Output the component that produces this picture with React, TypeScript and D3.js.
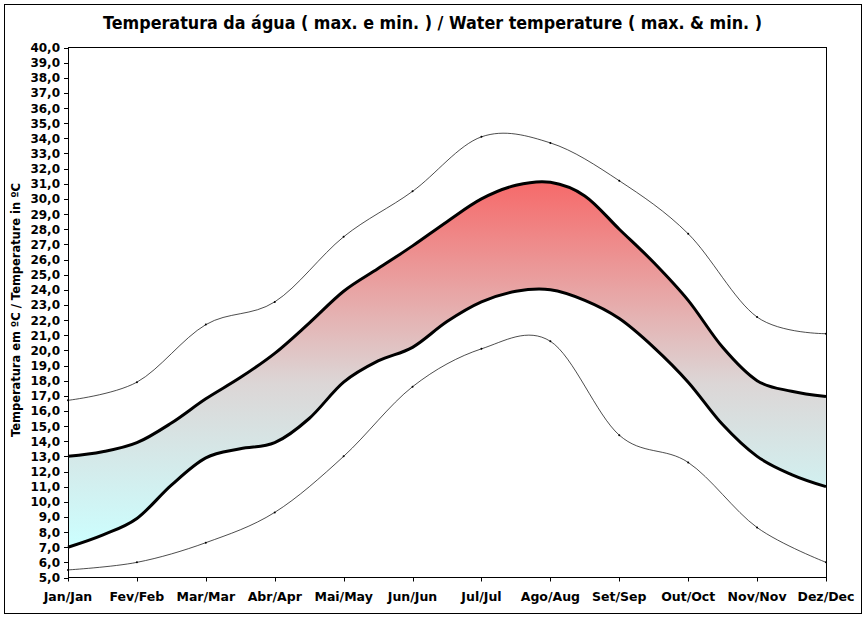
import React from 'react';
import * as d3 from 'd3';

const months = ['Jan/Jan','Fev/Feb','Mar/Mar','Abr/Apr','Mai/May','Jun/Jun','Jul/Jul','Ago/Aug','Set/Sep','Out/Oct','Nov/Nov','Dez/Dec'];
// Extreme (thin) lines – monthly values
const absMax = [16.7,17.9,21.7,23.2,27.5,30.5,34.1,33.7,31.2,27.7,22.2,21.1];
const absMin = [5.5,6.0,7.3,9.3,13.0,17.6,20.1,20.6,14.4,12.6,8.3,6.0];
// Mean (thick) lines – semi-monthly values
const halfMonthPos = [0,0.5,1,1.5,2,2.5,3,3.5,4,4.5,5,5.5,6,6.5,7,7.5,8,8.5,9,9.5,10,10.5,11];
const meanMax = [13.0,13.3,13.9,15.2,16.8,18.2,19.8,21.8,23.9,25.4,26.9,28.5,30.0,30.9,31.1,30.2,28.0,25.8,23.3,20.2,18.0,17.3,16.95];
const meanMin = [7.0,7.8,8.9,11.1,12.9,13.5,13.9,15.5,17.9,19.3,20.2,21.9,23.2,23.9,24.0,23.3,22.1,20.2,17.9,15.1,13.0,11.8,11.0];
const yTicks = d3.range(5, 40.001, 1);

const W = 867, H = 618;
const X0 = 68, X1 = 826, YT = 47.5, YB = 577.5;
const FONT = '"DejaVu Sans", Verdana, sans-serif';

export default function App() {
  const x = d3.scaleLinear().domain([0, 11]).range([X0, X1]);
  const y = d3.scaleLinear().domain([5, 40]).range([YB, YT]);
  const curve = d3.curveCardinal.tension(0);

  const thin = d3.line<number>().x((_, i) => x(i)).y(d => y(d)).curve(curve);
  const thick = d3.line<number>().x((_, i) => x(halfMonthPos[i])).y(d => y(d)).curve(curve);
  const band = d3.area<number>()
    .x((_, i) => x(halfMonthPos[i]))
    .y0((_, i) => y(meanMin[i]))
    .y1((_, i) => y(meanMax[i]))
    .curve(curve);

  const gTop = y(d3.max(meanMax)!);
  const gBot = y(d3.min(meanMin)!);

  return (
    <svg width={W} height={H} style={{ position: 'absolute', left: 0, top: 0, background: '#fff' }} fontFamily={FONT}>
      <defs>
        <linearGradient id="bandGrad" gradientUnits="userSpaceOnUse" x1={0} y1={gTop} x2={0} y2={gBot}>
          <stop offset="0%" stopColor="#f66a6a" />
          <stop offset="55%" stopColor="#dcd6d6" />
          <stop offset="100%" stopColor="#ccffff" />
        </linearGradient>
      </defs>
      <rect x={0} y={0} width={W} height={H} fill="#fff" />
      <rect x={4.5} y={4.5} width={857} height={609} fill="none" stroke="#000" strokeWidth={1} />

      <text x={432.5} y={29} textAnchor="middle" fontWeight="bold" fontSize={17} fill="#000"
        textLength={659} lengthAdjust="spacingAndGlyphs">
        Temperatura da água ( max. e min. ) / Water temperature ( max. &amp; min. )
      </text>

      {/* band */}
      <path d={band(meanMax)!} fill="url(#bandGrad)" stroke="none" />

      {/* plot frame */}
      <rect x={X0 + 0.5} y={YT} width={X1 - X0} height={YB - YT} fill="none" stroke="#000" strokeWidth={1} />

      {/* y axis ticks */}
      {yTicks.map(t => (
        <g key={t}>
          <line x1={X0 - 4} x2={X0} y1={Math.round(y(t)) + 0.5} y2={Math.round(y(t)) + 0.5} stroke="#000" />
          <text x={60} y={y(t) + 4.5} textAnchor="end" fontWeight="bold" fontSize={12} fill="#000">
            {t.toFixed(1).replace('.', ',')}
          </text>
        </g>
      ))}

      {/* x axis ticks */}
      {months.map((m, i) => (
        <g key={m}>
          <line x1={Math.round(x(i)) + 0.5} x2={Math.round(x(i)) + 0.5} y1={YB} y2={YB + 4} stroke="#000" />
          <text x={x(i)} y={600.5} textAnchor="middle" fontWeight="bold" fontSize={12.5} fill="#000">{m}</text>
        </g>
      ))}

      <text transform={`translate(20,${310}) rotate(-90)`} textAnchor="middle" fontWeight="bold" fontSize={12} fill="#000"
        textLength={254} lengthAdjust="spacingAndGlyphs">
        Temperatura em ºC / Temperature in ºC
      </text>

      {/* thin extreme lines */}
      <path d={thin(absMax)!} fill="none" stroke="#000" strokeWidth={0.7} />
      <path d={thin(absMin)!} fill="none" stroke="#000" strokeWidth={0.7} />
      {absMax.map((v, i) => <circle key={'a' + i} cx={x(i)} cy={y(v)} r={1} fill="#000" />)}
      {absMin.map((v, i) => <circle key={'b' + i} cx={x(i)} cy={y(v)} r={1} fill="#000" />)}

      {/* thick mean lines */}
      <path d={thick(meanMax)!} fill="none" stroke="#000" strokeWidth={3} strokeLinejoin="round" />
      <path d={thick(meanMin)!} fill="none" stroke="#000" strokeWidth={3} strokeLinejoin="round" />
    </svg>
  );
}
